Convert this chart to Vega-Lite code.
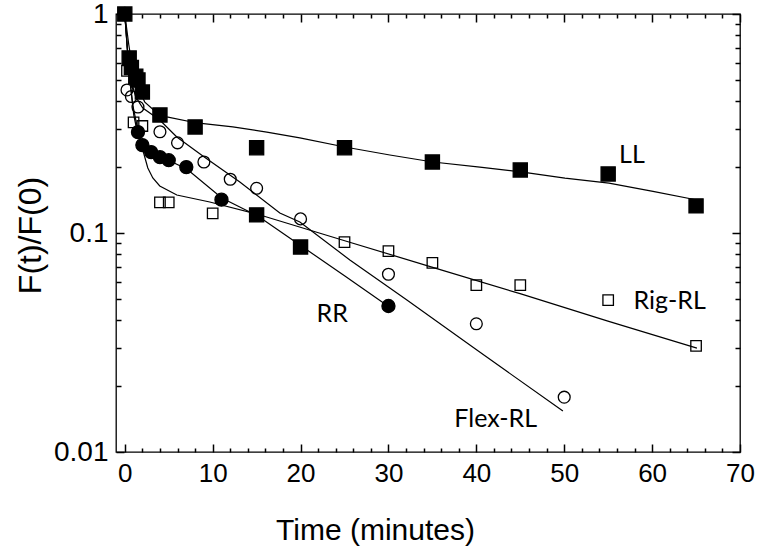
{
  "$schema": "https://vega.github.io/schema/vega-lite/v6.json",
  "width": 624,
  "height": 438,
  "autosize": {"type": "none"},
  "padding": {"left": 116, "top": 14, "right": 19, "bottom": 103},
  "background": "white",
  "config": {
    "view": {"stroke": "black", "strokeWidth": 1.3},
    "axis": {"domain": false, "grid": false, "labelColor": "black", "titleColor": "black", "titleFontWeight": "normal", "labelFlush": false, "labelOverlap": false}
  },
  "data": {
    "values": [
      {"kind": "fit", "series": "LL", "t": 0, "y": 1},
      {"kind": "fit", "series": "LL", "t": 0.46, "y": 0.722},
      {"kind": "fit", "series": "LL", "t": 0.91, "y": 0.555},
      {"kind": "fit", "series": "LL", "t": 1.48, "y": 0.459},
      {"kind": "fit", "series": "LL", "t": 2.28, "y": 0.396},
      {"kind": "fit", "series": "LL", "t": 3.41, "y": 0.361},
      {"kind": "fit", "series": "LL", "t": 4.78, "y": 0.339},
      {"kind": "fit", "series": "LL", "t": 8.19, "y": 0.318},
      {"kind": "fit", "series": "LL", "t": 12.29, "y": 0.305},
      {"kind": "fit", "series": "LL", "t": 16.16, "y": 0.289},
      {"kind": "fit", "series": "LL", "t": 19.92, "y": 0.272},
      {"kind": "fit", "series": "LL", "t": 25.04, "y": 0.247},
      {"kind": "fit", "series": "LL", "t": 30.16, "y": 0.227},
      {"kind": "fit", "series": "LL", "t": 35.06, "y": 0.211},
      {"kind": "fit", "series": "LL", "t": 40.4, "y": 0.2},
      {"kind": "fit", "series": "LL", "t": 45.07, "y": 0.19},
      {"kind": "fit", "series": "LL", "t": 50.08, "y": 0.178},
      {"kind": "fit", "series": "LL", "t": 55.09, "y": 0.169},
      {"kind": "fit", "series": "LL", "t": 60.1, "y": 0.155},
      {"kind": "fit", "series": "LL", "t": 65.1, "y": 0.1415},
      {"kind": "fit", "series": "RR", "t": 0, "y": 1},
      {"kind": "fit", "series": "RR", "t": 0.57, "y": 0.4995},
      {"kind": "fit", "series": "RR", "t": 1.02, "y": 0.346},
      {"kind": "fit", "series": "RR", "t": 1.37, "y": 0.2954},
      {"kind": "fit", "series": "RR", "t": 1.93, "y": 0.2576},
      {"kind": "fit", "series": "RR", "t": 3.07, "y": 0.2368},
      {"kind": "fit", "series": "RR", "t": 4.89, "y": 0.2154},
      {"kind": "fit", "series": "RR", "t": 7.06, "y": 0.196},
      {"kind": "fit", "series": "RR", "t": 11.04, "y": 0.1445},
      {"kind": "fit", "series": "RR", "t": 15.14, "y": 0.1196},
      {"kind": "fit", "series": "RR", "t": 19.92, "y": 0.0882},
      {"kind": "fit", "series": "RR", "t": 25.04, "y": 0.0636},
      {"kind": "fit", "series": "RR", "t": 29.93, "y": 0.0464},
      {"kind": "fit", "series": "Flex-RL", "t": 0, "y": 1},
      {"kind": "fit", "series": "Flex-RL", "t": 0.34, "y": 0.65},
      {"kind": "fit", "series": "Flex-RL", "t": 0.68, "y": 0.4995},
      {"kind": "fit", "series": "Flex-RL", "t": 1.25, "y": 0.418},
      {"kind": "fit", "series": "Flex-RL", "t": 2.05, "y": 0.372},
      {"kind": "fit", "series": "Flex-RL", "t": 3.98, "y": 0.328},
      {"kind": "fit", "series": "Flex-RL", "t": 5.92, "y": 0.2744},
      {"kind": "fit", "series": "Flex-RL", "t": 8.88, "y": 0.2247},
      {"kind": "fit", "series": "Flex-RL", "t": 13.09, "y": 0.171},
      {"kind": "fit", "series": "Flex-RL", "t": 17.64, "y": 0.1234},
      {"kind": "fit", "series": "Flex-RL", "t": 19.92, "y": 0.1122},
      {"kind": "fit", "series": "Flex-RL", "t": 25.61, "y": 0.0753},
      {"kind": "fit", "series": "Flex-RL", "t": 32.1, "y": 0.0494},
      {"kind": "fit", "series": "Flex-RL", "t": 40.06, "y": 0.0292},
      {"kind": "fit", "series": "Flex-RL", "t": 49.85, "y": 0.01539},
      {"kind": "fit", "series": "Rig-RL", "t": 0, "y": 1},
      {"kind": "fit", "series": "Rig-RL", "t": 0.46, "y": 0.555},
      {"kind": "fit", "series": "Rig-RL", "t": 0.91, "y": 0.384},
      {"kind": "fit", "series": "Rig-RL", "t": 1.48, "y": 0.2954},
      {"kind": "fit", "series": "Rig-RL", "t": 2.05, "y": 0.2393},
      {"kind": "fit", "series": "Rig-RL", "t": 2.62, "y": 0.198},
      {"kind": "fit", "series": "Rig-RL", "t": 3.19, "y": 0.1783},
      {"kind": "fit", "series": "Rig-RL", "t": 3.98, "y": 0.164},
      {"kind": "fit", "series": "Rig-RL", "t": 5.92, "y": 0.1491},
      {"kind": "fit", "series": "Rig-RL", "t": 9.67, "y": 0.1385},
      {"kind": "fit", "series": "Rig-RL", "t": 15.02, "y": 0.1221},
      {"kind": "fit", "series": "Rig-RL", "t": 24.93, "y": 0.0924},
      {"kind": "fit", "series": "Rig-RL", "t": 34.94, "y": 0.0699},
      {"kind": "fit", "series": "Rig-RL", "t": 45.07, "y": 0.0527},
      {"kind": "fit", "series": "Rig-RL", "t": 54.97, "y": 0.0396},
      {"kind": "fit", "series": "Rig-RL", "t": 65.1, "y": 0.0298},
      {"kind": "open", "series": "Rig-RL", "symbol": "os", "t": 0, "y": 1},
      {"kind": "open", "series": "Rig-RL", "symbol": "os", "t": 0.25, "y": 0.55},
      {"kind": "open", "series": "Rig-RL", "symbol": "os", "t": 1, "y": 0.32},
      {"kind": "open", "series": "Rig-RL", "symbol": "os", "t": 2, "y": 0.308},
      {"kind": "open", "series": "Rig-RL", "symbol": "os", "t": 4, "y": 0.138},
      {"kind": "open", "series": "Rig-RL", "symbol": "os", "t": 5, "y": 0.138},
      {"kind": "open", "series": "Rig-RL", "symbol": "os", "t": 10, "y": 0.123},
      {"kind": "open", "series": "Rig-RL", "symbol": "os", "t": 25, "y": 0.0909},
      {"kind": "open", "series": "Rig-RL", "symbol": "os", "t": 30, "y": 0.0826},
      {"kind": "open", "series": "Rig-RL", "symbol": "os", "t": 35, "y": 0.073},
      {"kind": "open", "series": "Rig-RL", "symbol": "os", "t": 40, "y": 0.0578},
      {"kind": "open", "series": "Rig-RL", "symbol": "os", "t": 45, "y": 0.0578},
      {"kind": "open", "series": "Rig-RL", "symbol": "os", "t": 55, "y": 0.0494},
      {"kind": "open", "series": "Rig-RL", "symbol": "os", "t": 65, "y": 0.0305},
      {"kind": "open", "series": "Flex-RL", "symbol": "oc", "t": 0, "y": 1},
      {"kind": "open", "series": "Flex-RL", "symbol": "oc", "t": 0.25, "y": 0.45},
      {"kind": "open", "series": "Flex-RL", "symbol": "oc", "t": 0.75, "y": 0.42},
      {"kind": "open", "series": "Flex-RL", "symbol": "oc", "t": 1.5, "y": 0.376},
      {"kind": "open", "series": "Flex-RL", "symbol": "oc", "t": 4, "y": 0.29},
      {"kind": "open", "series": "Flex-RL", "symbol": "oc", "t": 6, "y": 0.258},
      {"kind": "open", "series": "Flex-RL", "symbol": "oc", "t": 9, "y": 0.211},
      {"kind": "open", "series": "Flex-RL", "symbol": "oc", "t": 12, "y": 0.176},
      {"kind": "open", "series": "Flex-RL", "symbol": "oc", "t": 15, "y": 0.16},
      {"kind": "open", "series": "Flex-RL", "symbol": "oc", "t": 20, "y": 0.116},
      {"kind": "open", "series": "Flex-RL", "symbol": "oc", "t": 30, "y": 0.0648},
      {"kind": "open", "series": "Flex-RL", "symbol": "oc", "t": 40, "y": 0.0385},
      {"kind": "open", "series": "Flex-RL", "symbol": "oc", "t": 50, "y": 0.0178},
      {"kind": "filled", "series": "RR", "symbol": "fc", "t": 0, "y": 1},
      {"kind": "filled", "series": "RR", "symbol": "fc", "t": 1.5, "y": 0.289},
      {"kind": "filled", "series": "RR", "symbol": "fc", "t": 2, "y": 0.252},
      {"kind": "filled", "series": "RR", "symbol": "fc", "t": 3, "y": 0.234},
      {"kind": "filled", "series": "RR", "symbol": "fc", "t": 4, "y": 0.222},
      {"kind": "filled", "series": "RR", "symbol": "fc", "t": 5, "y": 0.215},
      {"kind": "filled", "series": "RR", "symbol": "fc", "t": 7, "y": 0.2},
      {"kind": "filled", "series": "RR", "symbol": "fc", "t": 11, "y": 0.142},
      {"kind": "filled", "series": "RR", "symbol": "fs", "t": 15, "y": 0.121},
      {"kind": "filled", "series": "RR", "symbol": "fs", "t": 20, "y": 0.0863},
      {"kind": "filled", "series": "RR", "symbol": "fc", "t": 30, "y": 0.0464},
      {"kind": "filled", "series": "LL", "symbol": "fs", "t": 0, "y": 1},
      {"kind": "filled", "series": "LL", "symbol": "fs", "t": 0.5, "y": 0.63},
      {"kind": "filled", "series": "LL", "symbol": "fs", "t": 0.75, "y": 0.57},
      {"kind": "filled", "series": "LL", "symbol": "fs", "t": 1.25, "y": 0.52},
      {"kind": "filled", "series": "LL", "symbol": "fs", "t": 1.5, "y": 0.5},
      {"kind": "filled", "series": "LL", "symbol": "fs", "t": 2, "y": 0.44},
      {"kind": "filled", "series": "LL", "symbol": "fs", "t": 4, "y": 0.346},
      {"kind": "filled", "series": "LL", "symbol": "fs", "t": 8, "y": 0.305},
      {"kind": "filled", "series": "LL", "symbol": "fs", "t": 15, "y": 0.245},
      {"kind": "filled", "series": "LL", "symbol": "fs", "t": 25, "y": 0.245},
      {"kind": "filled", "series": "LL", "symbol": "fs", "t": 35, "y": 0.211},
      {"kind": "filled", "series": "LL", "symbol": "fs", "t": 45, "y": 0.194},
      {"kind": "filled", "series": "LL", "symbol": "fs", "t": 55, "y": 0.186},
      {"kind": "filled", "series": "LL", "symbol": "fs", "t": 65, "y": 0.133},
      {"kind": "label", "label": "LL", "t": 57.7, "y": 0.227},
      {"kind": "label", "label": "Rig-RL", "t": 62.0, "y": 0.0489},
      {"kind": "label", "label": "RR", "t": 23.6, "y": 0.0427},
      {"kind": "label", "label": "Flex-RL", "t": 42.2, "y": 0.01415}
    ]
  },
  "layer": [
    {
      "transform": [{"filter": {"field": "kind", "equal": "fit"}}],
      "mark": {"type": "line", "color": "black", "strokeWidth": 1.2},
      "encoding": {
        "x": {"field": "t", "type": "quantitative", "scale": {"domain": [-1, 70], "nice": false, "zero": false},
          "axis": {"orient": "bottom", "values": [0, 10, 20, 30, 40, 50, 60, 70], "tickColor": "#000000", "tickWidth": 1.5, "offset": -8, "tickSize": 8, "labelFont": "Liberation Sans", "labelFontSize": 26, "labelPadding": 8, "title": "Time (minutes)", "titleFont": "Liberation Sans", "titleFontSize": 30, "titleX": 259, "titleY": 86, "titleBaseline": "middle", "titleAlign": "center"}},
        "y": {"field": "y", "type": "quantitative", "scale": {"type": "log", "domain": [0.01, 1], "nice": false},
          "axis": {"orient": "left", "values": [0.01, 0.1, 1], "format": "~g", "tickColor": "#000000", "tickWidth": 1.5, "offset": -8, "tickSize": 8, "labelFont": "Liberation Sans", "labelFontSize": 28, "labelPadding": 8, "title": "F(t)/F(0)", "titleFont": "Liberation Sans", "titleFontSize": 32, "titleX": -94, "titleY": 221, "titleBaseline": "middle", "titleAlign": "center"}},
        "detail": {"field": "series"}
      }
    },
    {
      "transform": [{"filter": {"field": "kind", "equal": "open"}}],
      "mark": {"type": "point", "filled": false, "stroke": "black", "strokeWidth": 1.3, "opacity": 1},
      "encoding": {
        "x": {"field": "t", "type": "quantitative", "scale": {"domain": [-1, 70], "nice": false, "zero": false},
          "axis": {"orient": "bottom", "values": [2, 4, 6, 8, 12, 14, 16, 18, 22, 24, 26, 28, 32, 34, 36, 38, 42, 44, 46, 48, 52, 54, 56, 58, 62, 64, 66, 68], "tickColor": "#000000", "tickWidth": 1.5, "offset": -4, "tickSize": 4, "labels": false, "title": null}},
        "y": {"field": "y", "type": "quantitative", "scale": {"type": "log", "domain": [0.01, 1], "nice": false},
          "axis": {"orient": "left", "values": [0.02, 0.03, 0.04, 0.05, 0.06, 0.07, 0.08, 0.09, 0.2, 0.3, 0.4, 0.5, 0.6, 0.7, 0.8, 0.9], "tickColor": "#000000", "tickWidth": 1.5, "offset": -5, "tickSize": 5, "labels": false, "title": null}},
        "shape": {"field": "symbol", "type": "nominal", "scale": {"domain": ["fs", "fc", "oc", "os"], "range": ["square", "circle", "circle", "square"]}, "legend": null},
        "size": {"field": "symbol", "type": "ordinal", "scale": {"domain": ["fs", "fc", "oc", "os"], "range": [200, 110, 140, 160]}, "legend": null}
      }
    },
    {
      "transform": [{"filter": {"field": "kind", "equal": "filled"}}],
      "mark": {"type": "point", "filled": true, "color": "black", "stroke": "black", "strokeWidth": 1.3, "opacity": 1},
      "encoding": {
        "x": {"field": "t", "type": "quantitative", "scale": {"domain": [-1, 70], "nice": false, "zero": false},
          "axis": {"orient": "top", "values": [2, 4, 6, 8, 12, 14, 16, 18, 22, 24, 26, 28, 32, 34, 36, 38, 42, 44, 46, 48, 52, 54, 56, 58, 62, 64, 66, 68], "tickColor": "#000000", "tickWidth": 1.5, "offset": -4, "tickSize": 4, "labels": false, "title": null}},
        "y": {"field": "y", "type": "quantitative", "scale": {"type": "log", "domain": [0.01, 1], "nice": false},
          "axis": {"orient": "right", "values": [0.02, 0.03, 0.04, 0.05, 0.06, 0.07, 0.08, 0.09, 0.2, 0.3, 0.4, 0.5, 0.6, 0.7, 0.8, 0.9], "tickColor": "#000000", "tickWidth": 1.5, "offset": -5, "tickSize": 5, "labels": false, "title": null}},
        "shape": {"field": "symbol", "type": "nominal", "scale": {"domain": ["fs", "fc", "oc", "os"], "range": ["square", "circle", "circle", "square"]}, "legend": null},
        "size": {"field": "symbol", "type": "ordinal", "scale": {"domain": ["fs", "fc", "oc", "os"], "range": [200, 110, 140, 160]}, "legend": null}
      }
    },
    {
      "transform": [{"filter": {"field": "kind", "equal": "label"}}],
      "mark": {"type": "text", "font": "Lato", "fontSize": 25, "color": "black", "align": "center", "baseline": "middle"},
      "encoding": {
        "x": {"field": "t", "type": "quantitative", "scale": {"domain": [-1, 70], "nice": false, "zero": false},
          "axis": {"orient": "top", "values": [0, 10, 20, 30, 40, 50, 60, 70], "tickColor": "#000000", "tickWidth": 1.5, "offset": -8, "tickSize": 8, "labels": false, "title": null}},
        "y": {"field": "y", "type": "quantitative", "scale": {"type": "log", "domain": [0.01, 1], "nice": false},
          "axis": {"orient": "right", "values": [0.01, 0.1, 1], "tickColor": "#000000", "tickWidth": 1.5, "offset": -8, "tickSize": 8, "labels": false, "title": null}},
        "text": {"field": "label"}
      }
    }
  ],
  "resolve": {"axis": {"x": "independent", "y": "independent"}}
}
